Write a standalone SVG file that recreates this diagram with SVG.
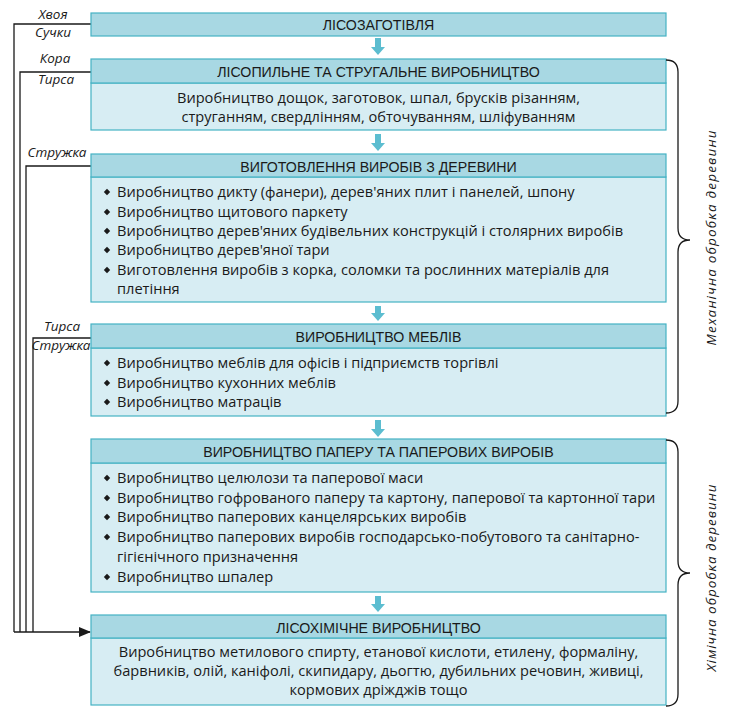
<svg xmlns="http://www.w3.org/2000/svg" width="733" height="720" viewBox="0 0 733 720">
<style>
.hd{fill:#a8d8e3;stroke:#45b2c4;stroke-width:1.2}
.bd{fill:#d7edf3;stroke:#45b2c4;stroke-width:1.2}
.ht{font-family:"Liberation Sans",Arial,sans-serif;font-size:14.2px;fill:#1a1a1a;text-anchor:middle}
.t{font-family:"Open Sans","Liberation Sans",Arial,sans-serif;font-size:14.6px;fill:#1a1a1a}
.c{text-anchor:middle}
.it{font-family:"Open Sans","Liberation Sans",Arial,sans-serif;font-size:13.5px;font-style:italic;fill:#1a1a1a}
.ln{fill:none;stroke:#1a1a1a;stroke-width:1.3}
.ar{fill:#5cbdd0}
.bl{fill:#1a1a1a}
</style>
<defs>
<marker id="ah" markerWidth="12" markerHeight="10" refX="11" refY="5" orient="auto" markerUnits="userSpaceOnUse">
<path d="M0,0 L12,5 L0,10 Z" fill="#1a1a1a"/>
</marker>
<path id="bul" d="M0,-3.2 L3.2,0 L0,3.2 L-3.2,0 Z"/>
</defs>

<g id="connectors">
<path class="ln" d="M91,24 H14 V632"/>
<path class="ln" d="M91,72 H20 V632"/>
<path class="ln" d="M91,166 H26 V632"/>
<path class="ln" d="M91,338 H33 V632"/>
<path class="ln" d="M14,632 H90" marker-end="url(#ah)"/>
<path class="ar" d="M375,38 H381 V47 H385 L378,55 L371,47 H375 Z"/>
<path class="ar" d="M375,134 H381 V143 H385 L378,151 L371,143 H375 Z"/>
<path class="ar" d="M375,306 H381 V313 H385 L378,321 L371,313 H375 Z"/>
<path class="ar" d="M375,420 H381 V429 H385 L378,437 L371,429 H375 Z"/>
<path class="ar" d="M375,596 H381 V604 H385 L378,612 L371,604 H375 Z"/>
</g>

<g id="labels">
<text class="it" x="53" y="19" text-anchor="middle">Хвоя</text>
<text class="it" x="53" y="37" text-anchor="middle">Сучки</text>
<text class="it" x="55" y="63" text-anchor="middle">Кора</text>
<text class="it" x="56" y="84" text-anchor="middle">Тирса</text>
<text class="it" x="57" y="157" text-anchor="middle">Стружка</text>
<text class="it" x="62" y="331" text-anchor="middle">Тирса</text>
<text class="it" x="61" y="350" text-anchor="middle">Стружка</text>
</g>

<g id="n1">
<rect class="hd" x="91" y="13" width="575" height="23"/>
<text class="ht" x="378.5" y="30">ЛІСОЗАГОТІВЛЯ</text>
</g>

<g id="n2">
<rect class="bd" x="91" y="83" width="575" height="47"/>
<rect class="hd" x="91" y="59" width="575" height="24"/>
<text class="ht" x="378.5" y="77">ЛІСОПИЛЬНЕ ТА СТРУГАЛЬНЕ ВИРОБНИЦТВО</text>
<text class="t c" x="378.5" y="103">Виробництво дощок, заготовок, шпал, брусків різанням,</text>
<text class="t c" x="378.5" y="122">струганням, свердлінням, обточуванням, шліфуванням</text>
</g>

<g id="n3">
<rect class="bd" x="91" y="177" width="575" height="125"/>
<rect class="hd" x="91" y="154" width="575" height="23"/>
<text class="ht" x="378.5" y="172">ВИГОТОВЛЕННЯ ВИРОБІВ З ДЕРЕВИНИ</text>
<use href="#bul" class="bl" x="107" y="192"/>
<use href="#bul" class="bl" x="107" y="212"/>
<use href="#bul" class="bl" x="107" y="231"/>
<use href="#bul" class="bl" x="107" y="250"/>
<use href="#bul" class="bl" x="107" y="270"/>
<text class="t" x="117" y="197">Виробництво дикту (фанери), дерев'яних плит і панелей, шпону</text>
<text class="t" x="117" y="217">Виробництво щитового паркету</text>
<text class="t" x="117" y="236">Виробництво дерев'яних будівельних конструкцій і столярних виробів</text>
<text class="t" x="117" y="255">Виробництво дерев'яної тари</text>
<text class="t" x="117" y="275">Виготовлення виробів з корка, соломки та рослинних матеріалів для</text>
<text class="t" x="117" y="294">плетіння</text>
</g>

<g id="n4">
<rect class="bd" x="91" y="348" width="575" height="68"/>
<rect class="hd" x="91" y="324" width="575" height="24"/>
<text class="ht" x="378.5" y="342">ВИРОБНИЦТВО МЕБЛІВ</text>
<use href="#bul" class="bl" x="107" y="363"/>
<use href="#bul" class="bl" x="107" y="383"/>
<use href="#bul" class="bl" x="107" y="402"/>
<text class="t" x="117" y="368">Виробництво меблів для офісів і підприємств торгівлі</text>
<text class="t" x="117" y="388">Виробництво кухонних меблів</text>
<text class="t" x="117" y="407">Виробництво матраців</text>
</g>

<g id="n5">
<rect class="bd" x="91" y="463" width="575" height="129"/>
<rect class="hd" x="91" y="439" width="575" height="24"/>
<text class="ht" x="378.5" y="457">ВИРОБНИЦТВО ПАПЕРУ ТА ПАПЕРОВИХ ВИРОБІВ</text>
<use href="#bul" class="bl" x="107" y="478"/>
<use href="#bul" class="bl" x="107" y="498"/>
<use href="#bul" class="bl" x="107" y="517"/>
<use href="#bul" class="bl" x="107" y="537"/>
<use href="#bul" class="bl" x="107" y="577"/>
<text class="t" x="117" y="483">Виробництво целюлози та паперової маси</text>
<text class="t" x="117" y="503">Виробництво гофрованого паперу та картону, паперової та картонної тари</text>
<text class="t" x="117" y="522">Виробництво паперових канцелярських виробів</text>
<text class="t" x="117" y="542">Виробництво паперових виробів господарсько-побутового та санітарно-</text>
<text class="t" x="117" y="562">гігієнічного призначення</text>
<text class="t" x="117" y="582">Виробництво шпалер</text>
</g>

<g id="n6">
<rect class="bd" x="91" y="638" width="575" height="67"/>
<rect class="hd" x="91" y="615" width="575" height="23"/>
<text class="ht" x="378.5" y="633">ЛІСОХІМІЧНЕ ВИРОБНИЦТВО</text>
<text class="t c" x="378.5" y="657">Виробництво метилового спирту, етанової кислоти, етилену, формаліну,</text>
<text class="t c" x="378.5" y="676">барвників, олій, каніфолі, скипидару, дьогтю, дубильних речовин, живиці,</text>
<text class="t c" x="378.5" y="695">кормових дріжджів тощо</text>
</g>

<g id="brace-mech">
<path class="ln" d="M666,60 Q678,60 678,72 V228 Q678,240 690,240 Q678,240 678,252 V401 Q678,413 666,413"/>
<text class="it" transform="translate(716,238) rotate(-90)" text-anchor="middle" textLength="215" lengthAdjust="spacing">Механічна обробка деревини</text>
</g>

<g id="brace-chem">
<path class="ln" d="M666,440 Q678,440 678,452 V561 Q678,573 690,573 Q678,573 678,585 V694 Q678,706 666,706"/>
<text class="it" transform="translate(716,578) rotate(-90)" text-anchor="middle" textLength="187" lengthAdjust="spacing">Хімічна обробка деревини</text>
</g>
</svg>
